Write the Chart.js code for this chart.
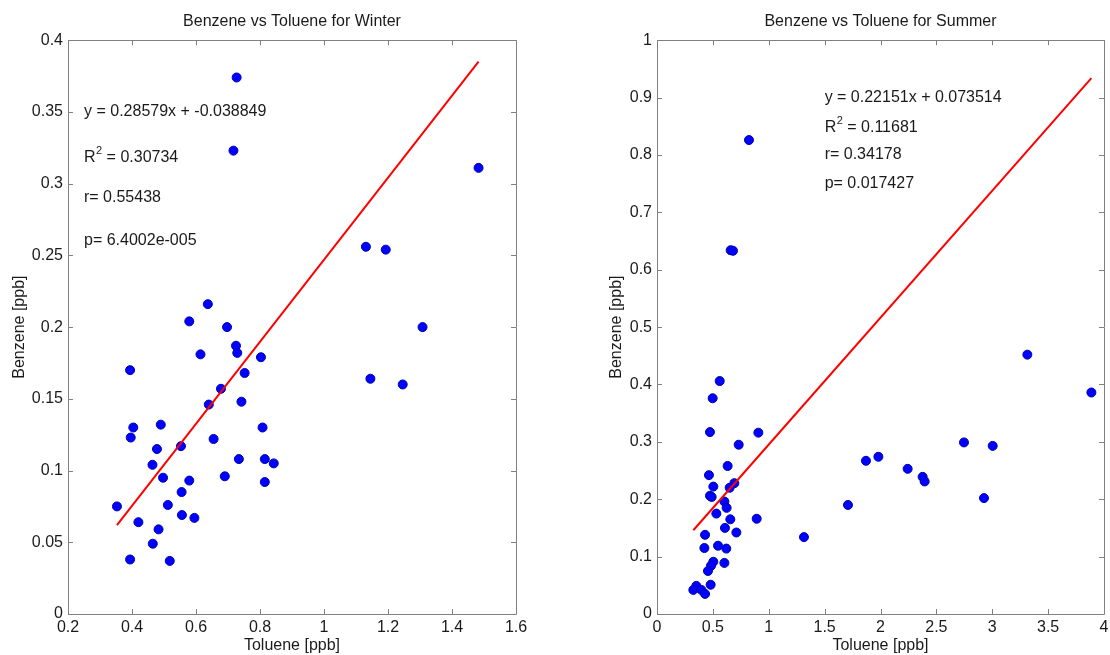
<!DOCTYPE html>
<html>
<head>
<meta charset="utf-8">
<script src="https://cdn.jsdelivr.net/npm/chart.js@4.4.0/dist/chart.umd.min.js"></script>
<style>
  body { margin: 0; background: #fff; }
  .panel { position: absolute; top: 0; width: 555px; height: 655px; }
</style>
</head>
<body>
<div class="panel" style="left:0"><canvas id="winterChart" width="555" height="655"></canvas></div>
<div class="panel" style="left:555px"><canvas id="summerChart" width="555" height="655"></canvas></div>
<script>
// winter samples (ppb)
const winterToluene = [0.637, 0.579, 0.697, 0.725, 0.729, 0.614, 0.803, 0.394, 0.752, 1.145,
    1.246, 0.678, 0.640, 0.742, 0.404, 0.490, 0.808, 0.396, 0.655, 0.478,
    0.553, 0.464, 0.734, 0.815, 0.843, 0.497, 0.690, 0.579, 0.815, 0.555,
    0.353, 0.512, 0.556, 0.595, 0.420, 0.483, 0.465, 0.394, 0.518, 1.308,
    0.727, 0.717, 1.483, 1.131, 1.193];
const winterBenzene = [0.216, 0.204, 0.200, 0.187, 0.182, 0.181, 0.179, 0.170, 0.168, 0.164,
    0.160, 0.157, 0.146, 0.148, 0.130, 0.132, 0.130, 0.123, 0.122, 0.115,
    0.117, 0.104, 0.108, 0.108, 0.105, 0.095, 0.096, 0.093, 0.092, 0.085,
    0.075, 0.076, 0.069, 0.067, 0.064, 0.059, 0.049, 0.038, 0.037, 0.200,
    0.374, 0.323, 0.311, 0.256, 0.254];
const winterFitX = [0.353, 1.483];
const winterFitY = [0.062, 0.385];
const winterNotes = ['y = 0.28579x + -0.038849', 'R^2 = 0.30734', 'r= 0.55438', 'p= 6.4002e-005'];
const winterXTicks = [0.2, 0.4, 0.6, 0.8, 1, 1.2, 1.4, 1.6];
const winterYTicks = [0, 0.05, 0.1, 0.15, 0.2, 0.25, 0.3, 0.35, 0.4];

// summer samples (ppb)
const summerToluene = [0.561, 0.498, 0.474, 0.907, 0.731, 0.632, 0.465, 0.504, 0.692, 0.650,
    0.474, 0.489, 0.603, 0.623, 0.531, 0.892, 0.656, 0.608, 0.710, 0.430,
    1.315, 0.424, 0.546, 0.620, 0.504, 0.603, 0.483, 0.456, 0.480, 0.352,
    0.325, 0.397, 0.430, 1.709, 1.870, 1.981, 2.243, 2.377, 2.395, 2.747,
    3.004, 2.926, 3.314, 3.887, 0.823, 0.659, 0.680];
const summerBenzene = [0.406, 0.376, 0.317, 0.316, 0.295, 0.258, 0.242, 0.222, 0.228, 0.220,
    0.206, 0.204, 0.196, 0.185, 0.175, 0.166, 0.165, 0.150, 0.142, 0.138,
    0.134, 0.115, 0.119, 0.114, 0.091, 0.089, 0.084, 0.075, 0.051, 0.049,
    0.042, 0.042, 0.035, 0.190, 0.267, 0.274, 0.253, 0.239, 0.231, 0.299,
    0.293, 0.202, 0.452, 0.386, 0.826, 0.634, 0.633];
const summerFitX = [0.325, 3.887];
const summerFitY = [0.146, 0.934];
const summerNotes = ['y = 0.22151x + 0.073514', 'R^2 = 0.11681', 'r= 0.34178', 'p= 0.017427'];
const summerXTicks = [0, 0.5, 1, 1.5, 2, 2.5, 3, 3.5, 4];
const summerYTicks = [0, 0.1, 0.2, 0.3, 0.4, 0.5, 0.6, 0.7, 0.8, 0.9, 1];

const FONT = "'Liberation Sans', Arial, sans-serif";
const TEXT = '#1a1a1a';
const BOX = '#808080';

function pairs(xs, ys) {
    return xs.map((x, i) => ({ x: x, y: ys[i] }));
}

// matlab style frame: box all round, ticks pointing inward, text notes
const matlabFrame = {
    id: 'matlabFrame',
    afterDraw(chart, args, opts) {
        const ctx = chart.ctx;
        const a = chart.chartArea;
        const xs = chart.scales.x;
        const ys = chart.scales.y;
        const len = 5;
        ctx.save();
        ctx.strokeStyle = BOX;
        ctx.lineWidth = 1;
        ctx.beginPath();
        ctx.rect(Math.round(a.left) + 0.5, Math.round(a.top) + 0.5,
            Math.round(a.right - a.left), Math.round(a.bottom - a.top));
        xs.ticks.forEach(t => {
            const px = Math.round(xs.getPixelForValue(t.value)) + 0.5;
            ctx.moveTo(px, a.bottom); ctx.lineTo(px, a.bottom - len);
            ctx.moveTo(px, a.top); ctx.lineTo(px, a.top + len);
        });
        ys.ticks.forEach(t => {
            const py = Math.round(ys.getPixelForValue(t.value)) + 0.5;
            ctx.moveTo(a.left, py); ctx.lineTo(a.left + len, py);
            ctx.moveTo(a.right, py); ctx.lineTo(a.right - len, py);
        });
        ctx.stroke();

        // regression notes
        ctx.fillStyle = TEXT;
        ctx.textBaseline = 'middle';
        ctx.textAlign = 'left';
        const x0 = xs.getPixelForValue(opts.x);
        opts.lines.forEach((line, i) => {
            const y0 = ys.getPixelForValue(opts.ys[i]);
            let px = x0;
            const parts = line.split('^');
            ctx.font = '16px ' + FONT;
            ctx.fillText(parts[0], px, y0);
            px += ctx.measureText(parts[0]).width;
            if (parts.length > 1) {
                ctx.font = '11px ' + FONT;
                ctx.fillText(parts[1][0], px + 0.5, y0 - 7);
                px += ctx.measureText(parts[1][0]).width + 0.5;
                ctx.font = '16px ' + FONT;
                ctx.fillText(parts[1].slice(1), px, y0);
            }
        });
        ctx.restore();
    }
};

function tickText(v) {
    return String(Number(v.toFixed(4)));
}

function makeChart(id, cfg) {
    const ctx = document.getElementById(id).getContext('2d');
    return new Chart(ctx, {
        type: 'scatter',
        data: {
            datasets: [{
                type: 'line',
                data: pairs(cfg.fitX, cfg.fitY),
                borderColor: '#ff0000',
                borderWidth: 2,
                pointRadius: 0,
                fill: false,
                order: 0
            }, {
                data: pairs(cfg.x, cfg.y),
                backgroundColor: '#0000ff',
                borderColor: '#0000b0',
                borderWidth: 1,
                pointRadius: 4.5,
                order: 1
            }]
        },
        options: {
            responsive: false,
            animation: false,
            events: [],
            layout: { padding: { left: cfg.padLeft, right: cfg.padRight, top: 0, bottom: 0 } },
            plugins: {
                legend: { display: false },
                tooltip: { enabled: false },
                title: {
                    display: true,
                    text: cfg.title,
                    fullSize: false,
                    color: TEXT,
                    font: { family: FONT, size: 16, weight: 'normal' },
                    padding: { top: 12, bottom: 9 }
                },
                matlabFrame: { x: cfg.noteX, ys: cfg.noteY, lines: cfg.notes }
            },
            scales: {
                x: {
                    type: 'linear',
                    min: cfg.xTicks[0],
                    max: cfg.xTicks[cfg.xTicks.length - 1],
                    afterBuildTicks: s => { s.ticks = cfg.xTicks.map(v => ({ value: v })); },
                    afterFit: s => { s.height = 41; s.paddingLeft = 0; s.paddingRight = 0; },
                    grid: { display: false, drawTicks: false },
                    border: { display: false },
                    ticks: { color: TEXT, padding: 4, maxRotation: 0, autoSkip: false,
                        font: { family: FONT, size: 16 }, callback: tickText },
                    title: { display: true, text: 'Toluene [ppb]', color: TEXT,
                        font: { family: FONT, size: 16 }, padding: { top: 0, bottom: 0 } }
                },
                y: {
                    type: 'linear',
                    min: cfg.yTicks[0],
                    max: cfg.yTicks[cfg.yTicks.length - 1],
                    afterBuildTicks: s => { s.ticks = cfg.yTicks.map(v => ({ value: v })); },
                    afterFit: s => { s.width = cfg.yWidth; s.paddingTop = 0; s.paddingBottom = 0; },
                    grid: { display: false, drawTicks: false },
                    border: { display: false },
                    ticks: { color: TEXT, padding: 5, autoSkip: false,
                        font: { family: FONT, size: 16 }, callback: tickText },
                    title: { display: true, text: 'Benzene [ppb]', color: TEXT,
                        font: { family: FONT, size: 16 }, padding: { top: 10, bottom: 0 } }
                }
            }
        },
        plugins: [matlabFrame]
    });
}

makeChart('winterChart', {
    title: 'Benzene vs Toluene for Winter',
    x: winterToluene, y: winterBenzene,
    fitX: winterFitX, fitY: winterFitY,
    xTicks: winterXTicks, yTicks: winterYTicks,
    notes: winterNotes, noteX: 0.25, noteY: [0.35, 0.318, 0.29, 0.26],
    padLeft: 0, padRight: 39, yWidth: 68
});

makeChart('summerChart', {
    title: 'Benzene vs Toluene for Summer',
    x: summerToluene, y: summerBenzene,
    fitX: summerFitX, fitY: summerFitY,
    xTicks: summerXTicks, yTicks: summerYTicks,
    notes: summerNotes, noteX: 1.5, noteY: [0.9, 0.847, 0.8, 0.75],
    padLeft: 42, padRight: 6, yWidth: 60
});
</script>
</body>
</html>
